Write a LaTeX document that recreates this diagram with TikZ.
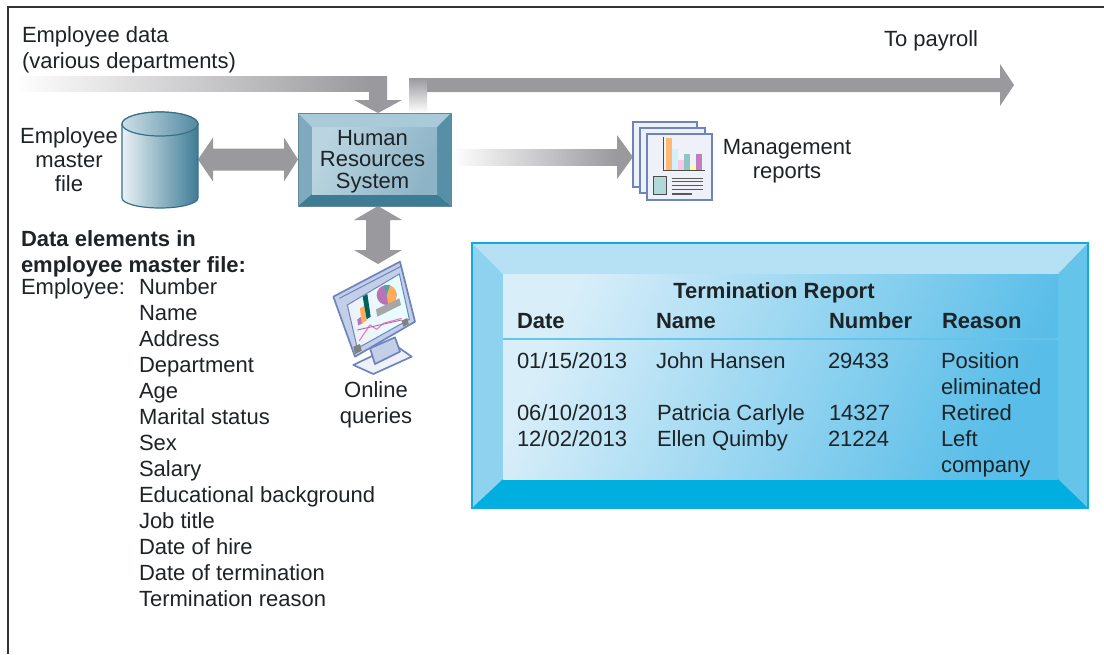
\documentclass[tikz,border=0pt]{standalone}
\usepackage{fontspec}
\setmainfont{Liberation Sans}
\usetikzlibrary{calc}
\definecolor{arrowgray}{HTML}{9A9A9E}
\definecolor{inktext}{HTML}{1E2326}
\definecolor{hrtop}{HTML}{A9CAD8}
\definecolor{hrleft}{HTML}{7FAABD}
\definecolor{hrright}{HTML}{578FA6}
\definecolor{hrbottom}{HTML}{3E7C95}
\definecolor{hrlight}{HTML}{BAD5E1}
\definecolor{hrmid}{HTML}{8DB4C6}
\definecolor{tbltop}{HTML}{B6E0F4}
\definecolor{tblleft}{HTML}{8FD2F0}
\definecolor{tblright}{HTML}{64C4EA}
\definecolor{tblbottom}{HTML}{00AEDF}
\definecolor{tblborder}{HTML}{14A9DD}
\definecolor{tbllight}{HTML}{D8EEF9}
\definecolor{tbldark}{HTML}{58BDE8}
\definecolor{iconline}{HTML}{6D84BE}
\definecolor{iconfill}{HTML}{EEF1F8}
\definecolor{monfill}{HTML}{C3CFE6}
\tikzset{
  txt/.style={inner sep=0pt,outer sep=0pt,text=inktext,font=\fontsize{22}{26}\selectfont,anchor=base west},
  ctr/.style={txt,anchor=base,align=center},
  btxt/.style={txt,font=\fontsize{22}{26}\selectfont\bfseries},
  bctr/.style={btxt,anchor=base},
  anchorbox/.style={inner sep=0pt,outer sep=0pt,minimum width=#1},
  bigarrow/.style={fill=arrowgray,draw=none},
  iconpage/.style={draw=iconline,line width=1.7pt,fill=#1},
}
\begin{document}
\begin{tikzpicture}[x=1pt,y=-1pt]
\useasboundingbox (0,0) rectangle (1104,654);
\fill[white] (0,0) rectangle (1104,654);
\draw[line width=1.2pt,draw=black!80] (8,654) -- (8,7) -- (1104,7);

% anchor nodes
\node[anchorbox=153pt,minimum height=93pt] (hr) at (374.5,159.5) {};
\node[anchorbox=76pt,minimum height=96pt] (cyl) at (160,159.5) {};
\node[anchorbox=80pt,minimum height=90pt] (rep) at (673,157) {};
\node[anchorbox=90pt,minimum height=110pt] (mon) at (376,319) {};
\node[anchorbox=616pt,minimum height=265pt] (tbl) at (780,375.5) {};
\coordinate (infrom) at (14,83.5);
\coordinate (outto) at (1014,85);

% incoming arrow
\shade[left color=white,right color=arrowgray] (infrom) ++(0,-7.5) rectangle (369,91);
\path[bigarrow] (369,76) -- (387,76) -- (387,100) -- (402,100) -- ($(hr.north)+(3.5,0)$) -- (354,100) -- (369,100) -- cycle;

% to payroll arrow
\shade[bottom color=white,top color=arrowgray] ($(hr.north)+(34.5,0)$) rectangle (427,78);
\path[bigarrow] (427,78) -- (1000,78) -- (1000,64) -- (outto) -- (1000,106) -- (1000,92) -- (427,92) -- cycle;

% cylinder <-> HR
\path[bigarrow] (cyl.east) -- ++(15,-22) -- ++(0,11) -- ($(hr.west)+(-14,-11)$) -- ++(0,-11) -- (hr.west) -- ++(-14,22) -- ++(0,-11) -- ($(cyl.east)+(15,11)$) -- ++(0,11) -- cycle;

% HR -> management reports
\shade[left color=white,right color=arrowgray] (hr.east |- 0,149) rectangle (617,165);
\path[bigarrow] (616,149) -- (617,149) -- (617,135) -- (rep.west) -- (617,179) -- (617,165) -- (616,165) -- cycle;

% HR <-> monitor
\path[bigarrow] ($(hr.south)+(3.5,0)$) -- ++(24,14) -- ++(-12,0) -- ++(0,30) -- ++(12,0) -- ($(mon.north)+(2,0)$) -- ++(-24,-14) -- ++(12,0) -- ++(0,-30) -- ++(-12,0) -- cycle;

% cylinder drawing
\shade[left color=hrtop!25,right color=hrbottom,draw=hrbottom!90!black,line width=1.2pt]
  (122,124) -- (122,198) arc[x radius=38,y radius=10,start angle=180,end angle=0] -- (198,124) arc[x radius=38,y radius=12,start angle=360,end angle=180] -- cycle;
\shade[left color=hrtop!60,right color=hrbottom!90,draw=hrbottom!90!black,line width=1.2pt]
  (160,124) ellipse[x radius=38,y radius=12];

% HR box
\fill[hrtop] (298,113) -- (451,113) -- (437,127) -- (312,127) -- cycle;
\fill[hrleft] (298,113) -- (312,127) -- (312,194) -- (298,206) -- cycle;
\fill[hrright] (451,113) -- (437,127) -- (437,194) -- (451,206) -- cycle;
\fill[hrbottom] (298,206) -- (312,194) -- (437,194) -- (451,206) -- cycle;
\shade[left color=hrlight,right color=hrmid,shading angle=65] (312,127) rectangle (437,194);
\draw[hrleft!80!black,line width=1pt] (298,113) rectangle (451,206);

% report icon
\begin{scope}[shift={(610,100)},scale=1/3]
  \draw[iconpage=iconfill] (68,65) rectangle (260,260);
  \draw[iconpage=iconfill] (90,83) rectangle (285,280);
  \draw[iconpage=iconfill] (112,102) rectangle (305,300);
  \fill[orange!55] (168,113) rectangle (185,210);
  \fill[cyan!18] (187,148) rectangle (205,210);
  \fill[magenta!22] (205,180) rectangle (222,210);
  \fill[teal!45] (222,162) rectangle (240,210);
  \fill[yellow!35] (240,195) rectangle (257,210);
  \fill[violet!50] (257,162) rectangle (275,210);
  \draw[black!70,line width=1.3pt] (160,112) -- (160,212) -- (285,212);
  \draw[black!70,line width=.9pt,fill=teal!30] (130,228) rectangle (168,283);
  \draw[black!65,line width=1.1pt] (185,235) -- (280,235) (185,245) -- (280,245) (185,256) -- (280,256) (185,268) -- (280,268) (185,282) -- (245,282);
\end{scope}

% monitor icon
\begin{scope}[shift={(320,250)},scale=1/3]
  \draw[iconpage=iconfill,line join=round] (100,345) -- (225,285) -- (275,320) -- (160,372) -- cycle;
  \draw[iconpage=monfill,line join=round] (150,295) -- (225,262) -- (240,305) -- (165,342) -- cycle;
  \draw[iconpage=monfill,line join=round] (40,140) -- (240,35) -- (285,215) -- (105,320) -- cycle;
  \draw[draw=iconline,line width=1pt] (58,145) -- (245,48);
  \shade[left color=iconfill,right color=cyan!10,draw=iconline,line width=1pt] (82,165) -- (238,72) -- (268,208) -- (112,295) -- cycle;
  \fill[black!50] (100,290) -- (120,282) -- (125,302) -- (105,312) -- cycle;
  \fill[black!50] (245,212) -- (262,204) -- (266,222) -- (250,230) -- cycle;
  \fill[violet!55] (200,135) circle[radius=30];
  \fill[orange!65] (200,135) -- (205,105) arc[start angle=-80,end angle=80,radius=30] -- cycle;
  \fill[teal!70] (200,135) -- (192,106) -- (210,105) -- cycle;
  \fill[black!35] (168,178) -- (238,145) -- (243,165) -- (172,200) -- cycle;
  \fill[violet!55] (112,208) -- (125,200) -- (128,220) -- (114,226) -- cycle;
  \fill[orange!65] (120,175) -- (134,167) -- (140,212) -- (125,220) -- cycle;
  \fill[teal!75!black] (128,140) -- (142,132) -- (152,200) -- (140,208) -- cycle;
  \draw[magenta!55,line width=1.1pt] (118,272) -- (150,225) -- (170,238) -- (190,220) -- (245,205);
  \draw[violet!60,line width=.9pt] (112,240) -- (245,210);
\end{scope}

% table box
\fill[tbltop] (tbl.north west) -- (tbl.north east) -- (1058,274) -- (503,274) -- cycle;
\fill[tblleft] (tbl.north west) -- (503,274) -- (503,479) -- (tbl.south west) -- cycle;
\fill[tblright] (tbl.north east) -- (1058,274) -- (1058,479) -- (tbl.south east) -- cycle;
\fill[tblbottom] (tbl.south west) -- (503,479) -- (1058,479) -- (tbl.south east) -- cycle;
\shade[left color=tbllight,right color=tbldark,shading angle=65] (503,274) rectangle (1058,479);
\draw[tblborder,line width=2.4pt] (tbl.north west) rectangle (tbl.south east);
\draw[tblright,line width=1.2pt] (503,339) -- (1058,339);

% texts
\node[txt] (t1) at (22,42) {Employee data};
\node[txt] (t2) at (22,68) {(various departments)};
\node[txt] (t3) at (884,46) {To payroll};
\node[ctr] (t4) at (69,143) {Employee};
\node[ctr] (t5) at (69,167) {master};
\node[ctr] (t6) at (69,191) {file};
\node[ctr] (t7) at (372.5,145) {Human};
\node[ctr] (t8) at (372.5,166) {Resources};
\node[ctr] (t9) at (372.5,188) {System};
\node[ctr] (t10) at (787,154) {Management};
\node[ctr] (t11) at (787,178) {reports};
\node[ctr] (t12) at (376,397) {Online};
\node[ctr] (t13) at (376,423) {queries};
\node[btxt] (d1) at (21,246) {Data elements in};
\node[btxt] (d2) at (21,272) {employee master file:};
\node[txt] (d3) at (21,294) {Employee:};
\node[txt] (l1) at (139,294) {Number};
\node[txt] (l2) at (139,320) {Name};
\node[txt] (l3) at (139,346) {Address};
\node[txt] (l4) at (139,372) {Department};
\node[txt] (l5) at (139,398) {Age};
\node[txt] (l6) at (139,424) {Marital status};
\node[txt] (l7) at (139,450) {Sex};
\node[txt] (l8) at (139,476) {Salary};
\node[txt] (l9) at (139,502) {Educational background};
\node[txt] (l10) at (139,528) {Job title};
\node[txt] (l11) at (139,554) {Date of hire};
\node[txt] (l12) at (139,580) {Date of termination};
\node[txt] (l13) at (139,606) {Termination reason};
\node[bctr] (h0) at (774,298) {Termination Report};
\node[btxt] (h1) at (517,328) {Date};
\node[btxt] (h2) at (656,328) {Name};
\node[btxt] (h3) at (829,328) {Number};
\node[btxt] (h4) at (942,328) {Reason};
\node[txt] (r1a) at (517,368) {01/15/2013};
\node[txt] (r1b) at (656,368) {John Hansen};
\node[txt] (r1c) at (828,368) {29433};
\node[txt] (r1d) at (941,368) {Position};
\node[txt] (r1e) at (941,394) {eliminated};
\node[txt] (r2a) at (517,420) {06/10/2013};
\node[txt] (r2b) at (657,420) {Patricia Carlyle};
\node[txt] (r2c) at (829,420) {14327};
\node[txt] (r2d) at (941,420) {Retired};
\node[txt] (r3a) at (517,446) {12/02/2013};
\node[txt] (r3b) at (657,446) {Ellen Quimby};
\node[txt] (r3c) at (828,446) {21224};
\node[txt] (r3d) at (941,446) {Left};
\node[txt] (r3e) at (941,472) {company};
\end{tikzpicture}
\end{document}
